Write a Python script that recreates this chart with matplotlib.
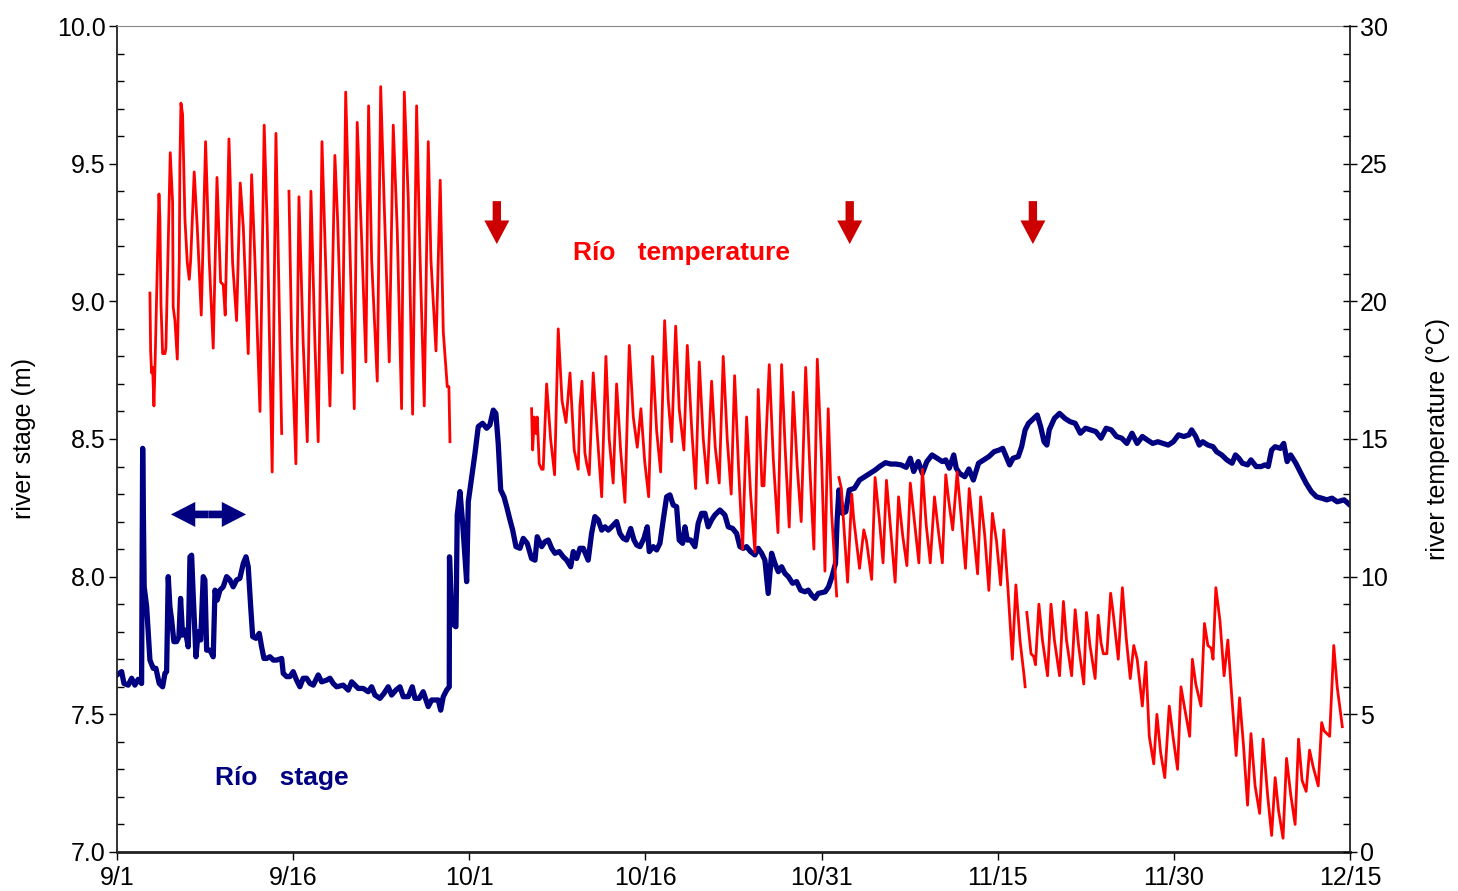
import numpy as np
import matplotlib
matplotlib.use("Agg")
import matplotlib.pyplot as plt
from matplotlib.ticker import MultipleLocator, FormatStrFormatter

plt.rcParams["font.family"] = ["Liberation Sans", "DejaVu Sans"]

# x values are days since 9/1
date_ticks = [0, 15, 30, 45, 60, 75, 90, 105]
date_labels = ["9/1", "9/16", "10/1", "10/16", "10/31", "11/15", "11/30", "12/15"]

# river stage (m)
stage_days = [
    0.0, 0.40, 0.60, 0.96, 1.25, 1.53, 1.81, 2.10, 2.19, 2.32,
    2.53, 2.81, 3.09, 3.32, 3.60, 3.89, 4.09, 4.23, 4.37, 4.51,
    4.66, 4.85, 5.08, 5.28, 5.42, 5.59, 5.79, 5.94, 6.07, 6.22,
    6.36, 6.50, 6.73, 6.92, 7.13, 7.35, 7.49, 7.64, 7.92, 8.20,
    8.35, 8.54, 8.77, 9.05, 9.34, 9.62, 9.90, 10.19, 10.47, 10.76,
    10.99, 11.18, 11.39, 11.56, 11.84, 12.12, 12.32, 12.52, 12.75, 13.03,
    13.31, 13.60, 14.03, 14.16, 14.45, 14.73, 15.01, 15.30, 15.58, 15.86,
    16.15, 16.44, 16.72, 17.14, 17.43, 17.86, 18.14, 18.42, 18.71, 19.27,
    19.70, 19.99, 20.27, 20.55, 20.97, 21.40, 21.69, 21.97, 22.40, 22.74,
    23.10, 23.39, 23.76, 24.10, 24.38, 24.81, 25.15, 25.38, 25.74, 26.08,
    26.51, 26.80, 27.08, 27.36, 27.57, 27.79, 28.08, 28.30, 28.32, 28.50,
    28.70, 28.87, 28.98, 29.21, 29.44, 29.78, 29.92, 30.21, 30.49, 30.77,
    31.14, 31.48, 31.76, 32.05, 32.27, 32.47, 32.68, 32.96, 33.19, 33.47,
    33.70, 33.98, 34.32, 34.60, 34.94, 35.31, 35.60, 35.79, 36.17, 36.45,
    36.73, 37.02, 37.30, 37.67, 38.01, 38.30, 38.64, 38.86, 39.15, 39.43,
    39.71, 40.13, 40.42, 40.70, 40.99, 41.28, 41.56, 41.84, 42.13, 42.55,
    42.83, 43.12, 43.40, 43.75, 44.03, 44.26, 44.54, 44.88, 45.16, 45.33,
    45.67, 45.96, 46.24, 46.52, 46.81, 47.09, 47.37, 47.66, 47.88, 48.17,
    48.37, 48.57, 48.86, 49.22, 49.50, 49.79, 50.07, 50.35, 50.64, 50.92,
    51.35, 51.77, 52.06, 52.43, 52.77, 53.05, 53.33, 53.62, 53.96, 54.33,
    54.61, 54.90, 55.18, 55.46, 55.75, 56.03, 56.32, 56.60, 56.88, 57.17,
    57.54, 57.88, 58.22, 58.59, 58.87, 59.16, 59.44, 59.72,
    60.31, 60.60, 60.89, 61.19, 61.33, 61.48, 61.77, 62.07, 62.36, 62.80,
    63.24, 63.68, 64.12, 64.56, 65.01, 65.45, 65.89, 66.33, 66.77, 67.21,
    67.56, 67.85, 68.24, 68.59, 68.97, 69.41, 69.85, 70.29, 70.58, 70.88,
    71.26, 71.47, 71.76, 72.20, 72.55, 72.93, 73.37, 73.81, 74.25, 74.70,
    75.14, 75.43, 75.72, 76.02, 76.31, 76.75, 77.04, 77.34, 77.63, 77.93,
    78.37, 78.66, 78.95, 79.19, 79.39, 79.83, 80.27, 80.72, 81.16, 81.60,
    82.04, 82.48, 82.92, 83.36, 83.80, 84.24, 84.68, 85.12, 85.56, 86.00,
    86.44, 86.88, 87.32, 87.76, 88.20, 88.64, 89.08, 89.52, 89.96, 90.40,
    90.85, 91.29, 91.52, 91.87, 92.17, 92.46, 92.90, 93.34, 93.64, 94.08,
    94.52, 94.96, 95.25, 95.54, 95.84, 96.28, 96.57, 97.01, 97.45, 97.75,
    98.04, 98.33, 98.63, 99.07, 99.36, 99.65, 99.95, 100.39, 100.83, 101.27,
    101.71, 102.15, 102.59, 103.03, 103.47, 103.91, 104.50, 105.0,
]
stage_m = [
    7.643, 7.655, 7.612, 7.606, 7.631, 7.606, 7.627, 7.612, 8.466, 7.963,
    7.891, 7.697, 7.667, 7.667, 7.612, 7.600, 7.649, 7.655, 8.000, 7.891,
    7.842, 7.764, 7.764, 7.782, 7.921, 7.788, 7.806, 7.776, 7.745, 8.072,
    8.078, 7.927, 7.709, 7.800, 7.770, 8.000, 7.988, 7.733, 7.733, 7.709,
    7.951, 7.915, 7.951, 7.963, 8.000, 7.988, 7.963, 7.988, 7.994, 8.048,
    8.072, 8.036, 7.891, 7.782, 7.776, 7.794, 7.745, 7.703, 7.703, 7.709,
    7.697, 7.697, 7.703, 7.649, 7.637, 7.637, 7.655, 7.624, 7.600, 7.631,
    7.631, 7.612, 7.606, 7.643, 7.618, 7.624, 7.631, 7.612, 7.600, 7.606,
    7.588, 7.618, 7.606, 7.594, 7.594, 7.582, 7.600, 7.570, 7.558, 7.576,
    7.600, 7.570, 7.588, 7.600, 7.564, 7.564, 7.600, 7.558, 7.558, 7.582,
    7.528, 7.552, 7.552, 7.552, 7.515, 7.564, 7.588, 7.600, 8.072, 7.867,
    7.824, 7.818, 8.224, 8.309, 8.194, 7.982, 8.272, 8.363, 8.448, 8.545,
    8.557, 8.539, 8.551, 8.605, 8.593, 8.484, 8.315, 8.290, 8.254, 8.206,
    8.169, 8.109, 8.103, 8.139, 8.121, 8.066, 8.060, 8.145, 8.109, 8.127,
    8.133, 8.103, 8.085, 8.091, 8.072, 8.060, 8.036, 8.091, 8.066, 8.103,
    8.103, 8.060, 8.157, 8.218, 8.206, 8.169, 8.181, 8.169, 8.181, 8.200,
    8.157, 8.139, 8.133, 8.175, 8.133, 8.115, 8.109, 8.139, 8.181, 8.091,
    8.109, 8.097, 8.121, 8.206, 8.290, 8.297, 8.260, 8.254, 8.133, 8.121,
    8.181, 8.133, 8.133, 8.109, 8.194, 8.230, 8.230, 8.181, 8.206, 8.224,
    8.242, 8.224, 8.181, 8.175, 8.157, 8.109, 8.103, 8.109, 8.091, 8.079,
    8.103, 8.085, 8.060, 7.939, 8.085, 8.048, 8.018, 8.036, 8.012, 8.000,
    7.976, 7.982, 7.951, 7.945, 7.951, 7.933, 7.921, 7.939,
    7.945, 7.963, 8.000, 8.048, 8.206, 8.315, 8.230, 8.236, 8.315, 8.321,
    8.351, 8.363, 8.375, 8.387, 8.402, 8.414, 8.409, 8.409, 8.406, 8.397,
    8.430, 8.382, 8.418, 8.375, 8.418, 8.442, 8.430, 8.418, 8.424, 8.394,
    8.442, 8.394, 8.375, 8.363, 8.391, 8.351, 8.412, 8.424, 8.436, 8.454,
    8.460, 8.466, 8.436, 8.406, 8.430, 8.436, 8.472, 8.533, 8.557, 8.569,
    8.587, 8.545, 8.490, 8.478, 8.533, 8.575, 8.593, 8.575, 8.563, 8.557,
    8.521, 8.539, 8.533, 8.527, 8.503, 8.539, 8.533, 8.509, 8.503, 8.484,
    8.521, 8.484, 8.509, 8.496, 8.484, 8.490, 8.484, 8.478, 8.490, 8.515,
    8.509, 8.515, 8.533, 8.509, 8.478, 8.490, 8.478, 8.472, 8.454, 8.442,
    8.424, 8.412, 8.442, 8.430, 8.412, 8.406, 8.424, 8.400, 8.400, 8.406,
    8.400, 8.460, 8.472, 8.466, 8.484, 8.418, 8.442, 8.412, 8.375, 8.339,
    8.309, 8.290, 8.285, 8.279, 8.285, 8.272, 8.279, 8.260,
]

# river temperature (deg C), logger record split by gaps
temp_days_a = [
    2.81, 2.87, 2.95, 3.04, 3.15, 3.24, 3.58, 3.66, 3.75, 3.89,
    4.09, 4.17, 4.54, 4.74, 4.79, 4.94, 5.14, 5.31, 5.36, 5.45,
    5.59, 5.79, 5.99, 6.16, 6.28, 6.58, 6.84, 7.18, 7.55, 7.86,
    8.20, 8.52, 8.83, 9.05, 9.22, 9.54, 9.85, 10.19, 10.50, 10.76,
    11.18, 11.47, 11.75, 12.18, 12.54, 12.80, 13.22, 13.54, 14.03,
]
temp_a = [
    20.3, 18.2, 17.4, 17.6, 16.2, 17.6, 23.9, 23.0, 19.9, 18.1,
    18.1, 18.3, 25.4, 23.6, 19.8, 19.3, 17.9, 21.5, 24.9, 27.2,
    26.8, 23.0, 21.4, 20.8, 21.5, 24.7, 22.7, 19.5, 25.8, 21.5,
    18.3, 24.5, 20.7, 20.6, 19.5, 25.9, 21.4, 19.3, 24.3, 22.7,
    18.1, 24.6, 21.5, 16.0, 26.4, 22.7, 13.8, 26.1, 15.2,
]
temp_days_b = [
    14.65, 14.88, 15.24, 15.50, 15.86, 16.21, 16.35, 16.52, 16.86, 17.14,
    17.46, 17.80, 18.14, 18.56, 18.79, 19.19, 19.48, 19.90, 20.21, 20.46,
    20.86, 21.20, 21.43, 21.69, 22.17, 22.46, 22.74, 23.19, 23.53, 23.87,
    24.24, 24.47, 24.81, 25.18, 25.52, 25.80, 26.17, 26.51, 26.74, 27.17,
    27.53, 27.79, 28.13, 28.27, 28.36,
]
temp_b = [
    24.0, 18.5, 14.1, 23.8, 18.5, 14.9, 19.0, 24.0, 18.5, 14.9,
    25.8, 21.0, 16.2, 25.3, 23.0, 17.4, 27.6, 21.0, 16.1, 26.5,
    22.0, 17.8, 27.1, 21.5, 17.1, 27.8, 23.8, 17.8, 26.4, 22.6,
    16.1, 27.6, 23.7, 15.9, 27.1, 21.8, 16.2, 25.8, 21.5, 18.2,
    24.4, 18.9, 16.9, 16.9, 14.9,
]
temp_days_c = [
    35.31, 35.40, 35.54, 35.68, 35.79, 35.96, 36.17, 36.30, 36.59, 36.93,
    37.27, 37.58, 37.90, 38.24, 38.58, 38.94, 39.28, 39.43, 39.60, 39.85,
    40.00, 40.22, 40.56, 40.90, 41.28, 41.64, 41.92, 42.26, 42.55, 42.89,
    43.26, 43.63, 43.97, 44.31, 44.62, 44.94, 45.28, 45.62, 45.96, 46.30,
    46.64, 46.95, 47.24, 47.58, 47.88, 48.28, 48.57, 48.94, 49.28, 49.59,
    49.93, 50.27, 50.64, 50.95, 51.29, 51.63, 51.97, 52.31, 52.60, 52.94,
    53.28, 53.62, 53.96, 54.33, 54.61, 54.93, 55.10, 55.55, 55.89, 56.29,
    56.60, 56.91, 57.25, 57.59, 57.93, 58.27, 58.65, 59.01, 59.35, 59.64,
    60.01, 60.29, 60.57, 60.86, 61.29,
]
temp_c = [
    16.1, 14.6, 15.8, 15.2, 15.8, 14.1, 13.9, 13.9, 17.0, 15.0,
    13.7, 19.0, 16.4, 15.6, 17.4, 14.6, 13.9, 16.2, 17.1, 14.5,
    14.1, 13.7, 17.4, 15.2, 12.9, 18.0, 15.0, 13.4, 17.0, 14.6,
    12.7, 18.4, 15.8, 14.7, 16.1, 14.2, 12.9, 18.0, 15.3, 13.8,
    19.3, 16.4, 14.9, 19.1, 16.1, 14.6, 18.4, 15.4, 13.2, 17.8,
    15.0, 13.4, 17.1, 14.7, 13.4, 18.0, 15.0, 13.0, 17.3, 13.9,
    11.0, 15.8, 13.0, 10.9, 16.8, 13.3, 13.3, 17.7, 14.3, 11.6,
    17.7, 14.6, 11.8, 16.7, 14.0, 12.0, 17.6, 13.9, 11.0, 17.9,
    14.2, 10.2, 16.1, 12.3, 9.3,
]
temp_days_d = [
    61.48, 61.69, 62.22, 62.57, 62.74, 63.24, 63.60, 63.83, 64.27, 64.56,
    64.92, 65.24, 65.53, 65.89, 66.27, 66.56, 66.91, 67.27, 67.56, 67.94,
    68.29, 68.59, 68.91, 69.26, 69.62, 69.94, 70.29, 70.58, 70.85, 71.17,
    71.55, 71.91, 72.26, 72.58, 72.93, 73.29, 73.55, 73.90, 74.25, 74.55,
    74.90, 75.25, 75.52, 75.87, 76.25, 76.55, 76.90, 77.25, 77.34,
]
temp_d = [
    13.6, 13.2, 9.8, 13.0, 12.1, 10.3, 11.7, 11.3, 9.9, 13.6,
    12.1, 10.5, 13.5, 11.7, 9.8, 12.9, 11.5, 10.4, 13.4, 11.9,
    10.5, 13.9, 11.9, 10.5, 12.9, 11.7, 10.5, 13.7, 12.7, 11.7,
    13.8, 12.1, 10.3, 13.2, 11.7, 10.1, 12.9, 11.5, 9.5, 12.3,
    11.3, 9.7, 11.7, 9.6, 7.0, 9.7, 7.7, 6.4, 6.0,
]
temp_days_e = [
    77.48, 77.84, 78.07, 78.22, 78.51, 78.81, 79.25, 79.54, 79.83, 80.27,
    80.60, 80.86, 81.30, 81.60, 81.89, 82.33, 82.56, 82.86, 83.30, 83.56,
    83.80, 84.00, 84.30, 84.62, 84.83, 85.27, 85.62, 85.94, 86.29, 86.59,
    86.88, 87.32, 87.62, 87.91, 88.29, 88.56, 88.88, 89.23, 89.61, 89.96,
    90.32, 90.61, 90.93, 91.35, 91.58, 91.87, 92.31, 92.61, 92.90, 93.19,
    93.34, 93.58, 93.93, 94.28, 94.60, 94.96, 95.31, 95.60, 95.93, 96.28,
    96.57, 96.92, 97.31, 97.60, 97.98, 98.33, 98.63, 98.92, 99.30, 99.60,
    99.95, 100.33, 100.62, 100.92, 101.27, 101.56, 101.86, 102.30, 102.59, 102.80,
    103.27, 103.62, 103.91, 104.35,
]
temp_e = [
    8.7, 7.2, 7.1, 6.8, 9.0, 7.7, 6.4, 9.0, 7.7, 6.4,
    9.1, 7.7, 6.4, 8.8, 7.5, 6.1, 8.7, 7.5, 6.3, 8.6,
    7.6, 7.2, 7.2, 9.4, 8.7, 7.0, 9.6, 7.8, 6.3, 7.5,
    7.0, 5.3, 6.9, 4.2, 3.2, 5.0, 3.6, 2.7, 5.3, 4.1,
    3.0, 6.0, 5.2, 4.2, 7.0, 6.1, 5.3, 8.3, 7.5, 7.4,
    7.0, 9.6, 8.4, 6.4, 7.7, 5.5, 3.5, 5.6, 3.9, 1.7,
    4.3, 2.4, 1.4, 4.1, 2.1, 0.6, 2.7, 1.5, 0.5, 3.4,
    2.1, 1.0, 4.1, 2.6, 2.2, 3.7, 3.1, 2.4, 4.7, 4.4,
    4.2, 7.5, 6.0, 4.55,
]

# down arrows (days) marking events
event_days = [32.35, 62.4, 78.0]

navy = "#000080"
red = "#ff0000"

fig = plt.figure(figsize=(14.58, 8.91), dpi=100)
ax = fig.add_axes([0.0802, 0.0438, 0.8457, 0.9270])
ax2 = ax.twinx()

ax.plot(stage_days, stage_m, color=navy, lw=3.8, solid_joinstyle="round")

temp_segments = [
    (temp_days_a, temp_a),
    (temp_days_b, temp_b),
    (temp_days_c, temp_c),
    (temp_days_d, temp_d),
    (temp_days_e, temp_e),
]
for d, t in temp_segments:
    ax2.plot(d, t, color=red, lw=2.0)

ax.set_xlim(0, 105)
ax.set_ylim(7.0, 10.0)
ax2.set_ylim(0, 30)

ax.set_xticks(date_ticks)
ax.set_xticklabels(date_labels)
ax.yaxis.set_major_locator(MultipleLocator(0.5))
ax.yaxis.set_minor_locator(MultipleLocator(0.1))
ax.yaxis.set_major_formatter(FormatStrFormatter("%.1f"))
ax2.yaxis.set_major_locator(MultipleLocator(5))
ax2.yaxis.set_minor_locator(MultipleLocator(1))

ax.tick_params(axis="x", direction="out", length=6, width=1, labelsize=18, pad=4)
ax.tick_params(axis="y", which="major", direction="out", length=6, width=1,
               labelsize=18, pad=2)
ax.tick_params(axis="y", which="minor", direction="in", length=5, width=1)
ax2.tick_params(axis="y", which="major", direction="inout", length=10, width=1,
                labelsize=18, pad=2)
ax2.tick_params(axis="y", which="minor", direction="in", length=5, width=1)

for s in ["left", "bottom"]:
    ax.spines[s].set_color("#222222")
ax.spines["bottom"].set_linewidth(2)
ax.spines["left"].set_linewidth(1.3)
ax.spines["top"].set_color("#888888")
ax.spines["right"].set_visible(False)
ax2.spines["right"].set_color("#222222")
ax2.spines["right"].set_linewidth(1.3)
for s in ["left", "top", "bottom"]:
    ax2.spines[s].set_visible(False)

ax.set_ylabel("river stage (m)", fontsize=18)
ax.yaxis.set_label_coords(-0.066, 0.5)
ax2.set_ylabel("river temperature (°C)", fontsize=18)
ax2.yaxis.set_label_coords(1.062, 0.5)

ax.text(8.35, 7.268, "Río   stage", color=navy, fontsize=19,
        fontweight="bold", ha="left", va="center")
ax.text(38.8, 9.175, "Río   temperature", color=red, fontsize=19,
        fontweight="bold", ha="left", va="center")

for d in event_days:
    ax.annotate("", xy=(d, 9.208), xytext=(d, 9.364),
                arrowprops=dict(arrowstyle="simple,head_length=17,head_width=18,tail_width=6",
                                mutation_scale=1, color="#cc0000", lw=0,
                                shrinkA=0, shrinkB=0))

# double-headed arrow over the early-September stage rise
for end in (4.6, 11.0):
    ax.annotate("", xy=(end, 8.226), xytext=(7.8, 8.226),
                arrowprops=dict(arrowstyle="simple,head_length=17.5,head_width=18,tail_width=5.5",
                                mutation_scale=1, color=navy, lw=0,
                                shrinkA=0, shrinkB=0))

fig.savefig("out.png", dpi=100)
